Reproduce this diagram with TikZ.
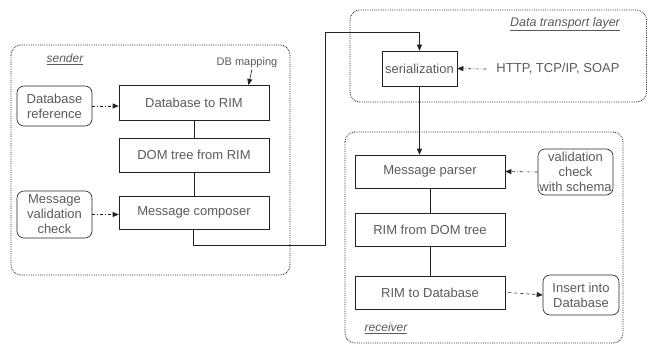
\documentclass[tikz,border=0pt]{standalone}
\usepackage{fontspec}
\setmainfont{Liberation Sans}
\usetikzlibrary{arrows.meta}
\definecolor{txt}{HTML}{5A5A5A}
\definecolor{ln}{HTML}{222222}
\tikzset{
  container/.style={draw=ln, line width=0.8pt, densely dotted, rounded corners=10pt},
  proc/.style={draw=ln, line width=0.6pt, rectangle, text=txt, font=\fontsize{13}{15}\selectfont, minimum width=150pt, minimum height=33pt, inner sep=1pt},
  side/.style={draw=ln, line width=0.6pt, rectangle, rounded corners=7pt, text=txt, font=\fontsize{13}{15}\selectfont, align=center, inner sep=0.5pt},
  lbl/.style={text=txt, font=\fontsize{13}{15}\selectfont, inner sep=0pt},
  flow/.style={draw=ln, line width=0.6pt},
  tip/.style={-{Triangle[length=6pt,width=5pt]}},
  aux/.style={draw=ln, line width=0.6pt, dash dot, -{Triangle[length=6pt,width=5pt]}},
}
\begin{document}
\begin{tikzpicture}[x=1pt,y=-1pt]
\useasboundingbox (0,0) rectangle (648,345);
% containers
\draw[container] (11,45) rectangle (290,275);
\draw[container] (350,10) rectangle (646.5,102);
\draw[container] (345,132) rectangle (623,343);
% container labels
\node[lbl, font=\fontsize{12}{14}\selectfont\itshape] (sndlbl) at (65,59) {\underline{sender}};
\node[lbl, font=\fontsize{12.5}{14}\selectfont\itshape] (dtllbl) at (565,24) {\underline{Data transport layer}};
\node[lbl, font=\fontsize{12}{14}\selectfont\itshape] (rcvlbl) at (386,328) {\underline{receiver}};
% sender
\node[proc, minimum height=35pt] (dbrim) at (194,102.5) {Database to RIM};
\node[proc, minimum height=34pt] (dom) at (194,155) {DOM tree from RIM};
\node[proc] (comp) at (194,212.5) {Message composer};
\node[side, minimum width=75pt, minimum height=40pt] (dbref) at (54.5,106) {Database\\reference};
\node[side, minimum width=75pt, minimum height=47pt] (msgval) at (54.5,214.5) {Message\\validation\\check};
\node[lbl, font=\fontsize{11}{13}\selectfont] (dbmap) at (247,63) {DB mapping};
\coordinate (dbmapend) at (248.5,85);
% transport
\node[proc, minimum width=75pt, minimum height=35pt] (ser) at (419.5,68.5) {serialization};
\node[lbl] (http) at (558,69) {HTTP, TCP/IP, SOAP};
% receiver
\node[proc] (parser) at (430,171.5) {Message parser};
\node[proc] (rimdom) at (430,229.5) {RIM from DOM tree};
\node[proc] (rimdb) at (430,292.5) {RIM to Database};
\node[side, minimum width=75pt, minimum height=46pt] (valsch) at (575.5,172) {validation\\check\\with schema};
\node[side, minimum width=76pt, minimum height=40pt] (ins) at (581,295) {Insert into\\Database};
% connectors
\draw[flow] (dbrim) -- (dom);
\draw[flow] (dom) -- (comp);
\draw[flow] (parser) -- (rimdom);
\draw[flow] (rimdom) -- (rimdb);
\coordinate (c1) at (193,245);
\coordinate (c2) at (325,245);
\coordinate (c3) at (325,32);
\draw[flow, tip] (comp.south -| c1) -- (c1) -- (c2) -- (c3) -- (c3 -| ser.north) -- (ser.north);
\draw[flow, tip] (ser.south) -- (ser.south |- parser.north);
\draw[flow, tip] (dbmap.south -| 252,0) ++(0,1) -- (dbmapend);
\draw[aux] (dbref) -- (dbref -| dbrim.west);
\draw[aux] (msgval) -- (msgval -| comp.west);
\draw[aux] (valsch.west) -- (parser.east);
\draw[aux] (http.west) ++(-10,0) -- (ser.east);
\draw[aux, dashed] (rimdb.east) ++(3,0) -- (ins.west);
\end{tikzpicture}
\end{document}
